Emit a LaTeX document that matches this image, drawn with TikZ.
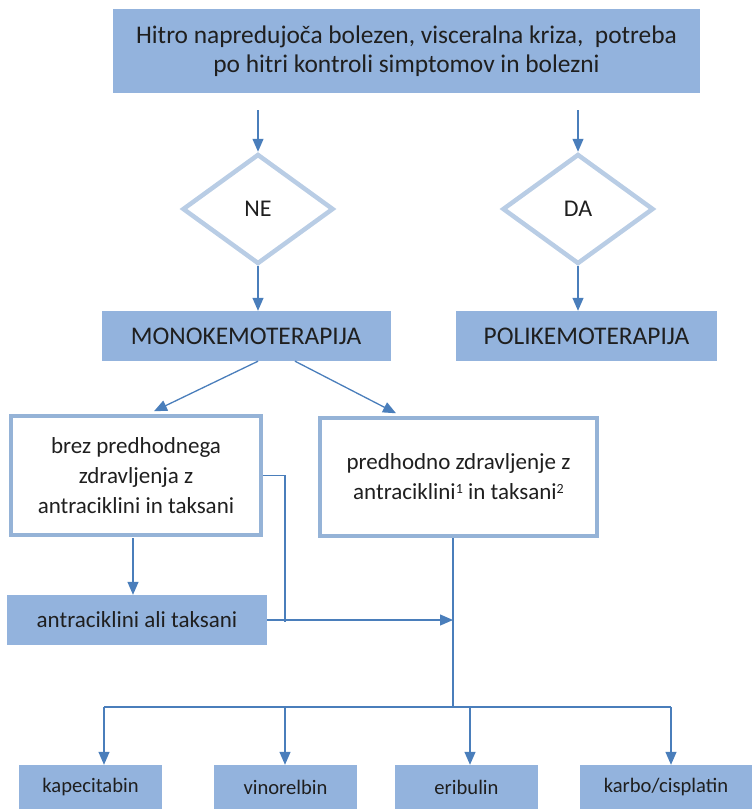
\documentclass[tikz,border=0pt]{standalone}
\usepackage{fontspec}
\setmainfont{Carlito}
\usetikzlibrary{shapes.geometric,arrows.meta}
\definecolor{boxfill}{HTML}{93B3DD}
\definecolor{arrowc}{HTML}{4A7EBB}
\definecolor{diaborder}{HTML}{B9CDE5}
\definecolor{boxborder}{HTML}{95B3D7}
\definecolor{txt}{HTML}{1F1F1F}
\newcommand{\supnum}[1]{\raisebox{0.55ex}{\fontsize{14}{14}\selectfont #1}}
\begin{document}
\begin{tikzpicture}[x=1pt,y=-1pt,
  fillbox/.style={fill=boxfill, draw=none, inner sep=0pt, align=center, text=txt},
  whitebox/.style={draw=boxborder, line width=4.5pt, fill=white, inner sep=0pt, align=center, text=txt},
  decision/.style={diamond, draw=diaborder, line width=4.5pt, inner sep=0pt, text=txt},
  arr/.style={draw=arrowc, line width=1.3pt, -{Triangle[width=11pt,length=13pt]}},
  ln/.style={draw=arrowc, line width=1.3pt},
  big/.style={font=\fontsize{25.4}{32}\selectfont},
  dec/.style={font=\fontsize{24}{30}\selectfont},
  mid/.style={font=\fontsize{23}{30}\selectfont},
  small/.style={font=\fontsize{20.6}{24}\selectfont},
]
\useasboundingbox (0,0) rectangle (752,809);

\node[fillbox, big, minimum width=587pt, minimum height=84pt] (top) at (406.5,51)
  {\raisebox{-3pt}{\shortstack{Hitro napredujoča bolezen, visceralna kriza,~ potreba\\[4pt]po hitri kontroli simptomov in bolezni}}};

\coordinate (s1) at (258,110);
\coordinate (s2) at (578,110);

\node[decision, dec, minimum width=151pt, minimum height=110pt] (ne) at (258,209) {NE};
\node[decision, dec, minimum width=151pt, minimum height=110pt] (da) at (578,209) {DA};

\draw[arr] (s1) -- (ne.north);
\draw[arr] (s2) -- (da.north);

\node[fillbox, big, minimum width=289pt, minimum height=50pt] (mono) at (246,336) {MONOKEMOTERAPIJA};
\node[fillbox, big, minimum width=261pt, minimum height=50pt] (poli) at (586.5,336) {POLIKEMOTERAPIJA};

\draw[arr] (ne.south) -- (ne.south |- mono.north);
\draw[arr] (da.south) -- (da.south |- poli.north);

\node[whitebox, mid, minimum width=250pt, minimum height=119pt] (lb) at (136,475.5)
  {brez predhodnega\\zdravljenja z\\antraciklini in taksani};
\node[whitebox, mid, minimum width=277pt, minimum height=118pt] (rb) at (458.5,477)
  {predhodno zdravljenje z\\antraciklini\supnum{1} in taksani\supnum{2}};

\draw[arr] ([xshift=12pt]mono.south) -- ([xshift=18pt,yshift=2.5pt]lb.north);
\draw[arr] ([xshift=49pt]mono.south) -- ([xshift=-62.5pt,yshift=2.5pt]rb.north);

\node[fillbox, mid, minimum width=260pt, minimum height=50pt] (ant) at (137,620) {antraciklini ali taksani};

\coordinate (l1) at (133,538);
\draw[arr] (l1) -- (l1 |- ant.north);

\coordinate (j) at (285,622);
\draw[ln] (lb.east) -| (j);

\coordinate (v1) at (453,538);
\coordinate (v2) at (453,707);
\draw[ln] (v1) -- (v2);
\draw[arr] (ant.east) -- (ant.east -| v1);

\coordinate (h1) at (104,707);
\coordinate (h2) at (285,707);
\coordinate (h3) at (470,707);
\coordinate (h4) at (671,707);
\draw[ln] (h1) -- (h4);

\node[fillbox, small, minimum width=143pt, minimum height=44pt] (kap) at (90.5,787) {kapecitabin};
\node[fillbox, small, minimum width=143pt, minimum height=44pt] (vin) at (285.5,787) {vinorelbin};
\node[fillbox, small, minimum width=143pt, minimum height=44pt] (eri) at (466.5,787) {eribulin};
\node[fillbox, small, minimum width=172pt, minimum height=44pt] (kar) at (666,787) {karbo/cisplatin};

\draw[arr] (h1) -- (h1 |- kap.north);
\draw[arr] (h2) -- (h2 |- vin.north);
\draw[arr] (h3) -- (h3 |- eri.north);
\draw[arr] (h4) -- (h4 |- kar.north);
\end{tikzpicture}
\end{document}
